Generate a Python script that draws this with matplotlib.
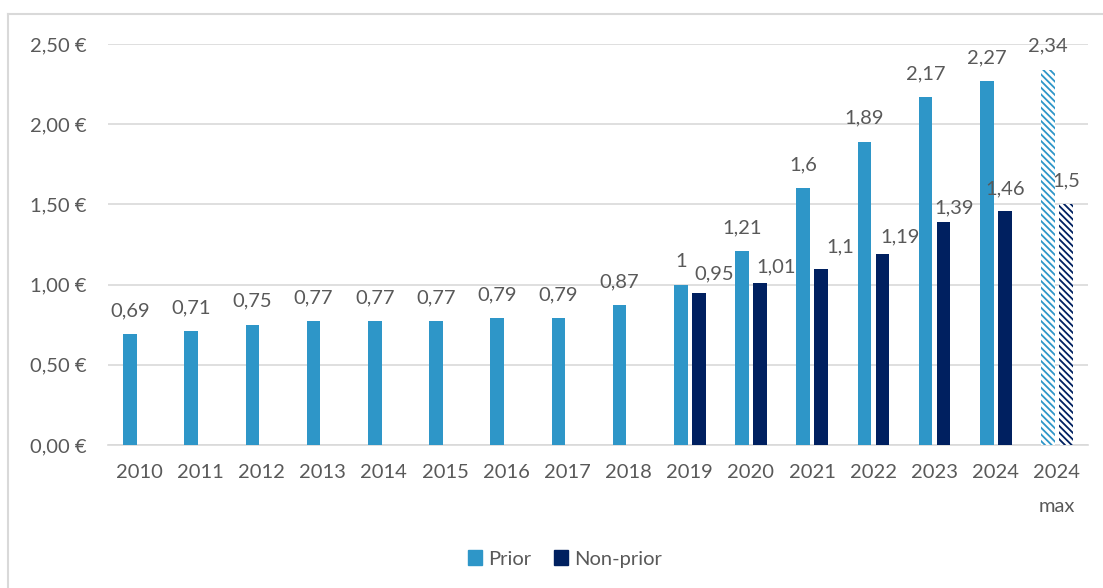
import matplotlib
matplotlib.use("Agg")
import matplotlib.pyplot as plt
from matplotlib.patches import Patch
from matplotlib.lines import Line2D
import numpy as np

plt.rcParams['font.family'] = ['Lato', 'DejaVu Sans']
plt.rcParams['hatch.linewidth'] = 1.3

# data
years = ['2010', '2011', '2012', '2013', '2014', '2015', '2016', '2017',
         '2018', '2019', '2020', '2021', '2022', '2023', '2024', '2024\nmax']
prior = [0.69, 0.71, 0.75, 0.77, 0.77, 0.77, 0.79, 0.79,
         0.87, 1.00, 1.21, 1.60, 1.89, 2.17, 2.27, 2.34]
non_prior = [None, None, None, None, None, None, None, None,
             None, 0.95, 1.01, 1.10, 1.19, 1.39, 1.46, 1.50]
# the non-prior labels were nudged by hand in the original (pixels)
np_label_dx = [0, 0, 0, 0, 0, 0, 0, 0, 0, 15, 16, 19, 18, 11, 0, 0]
np_label_gap = [0, 0, 0, 0, 0, 0, 0, 0, 0, 13, 11, 16, 12, 9, 16, 18]
yticks = [0, 0.5, 1.0, 1.5, 2.0, 2.5]

c_prior = '#2E96C8'
c_nonprior = '#002060'
txt = '#595959'
grid = '#D9D9D9'
fs = 14.5

fig = plt.figure(figsize=(11.03, 5.88), dpi=100)
ax = fig.add_axes([108.4 / 1103, 1 - 445 / 588, (1087.6 - 108.4) / 1103, (445 - 44) / 588])

x = np.arange(len(years))
off, w = 0.147, 0.22
last = len(years) - 1

def fmt(v):
    return f'{v:g}'.replace('.', ',')

for i, v in enumerate(prior):
    if i == last:
        ax.bar(x[i] - off, v, w, facecolor='white', edgecolor=c_prior,
               hatch='\\\\\\\\\\', linewidth=0, zorder=3)
    else:
        ax.bar(x[i] - off, v, w, color=c_prior, zorder=3)
    ax.annotate(fmt(v), (x[i] - off, v), xytext=(0, 18), textcoords='offset pixels',
                ha='center', va='baseline', fontsize=fs, color=txt, annotation_clip=False)

for i, v in enumerate(non_prior):
    if v is None:
        continue
    if i == last:
        ax.bar(x[i] + off, v, w, facecolor='white', edgecolor=c_nonprior,
               hatch='\\\\\\\\\\', linewidth=0, zorder=3)
    else:
        ax.bar(x[i] + off, v, w, color=c_nonprior, zorder=3)
    ax.annotate(fmt(v), (x[i] + off, v), xytext=(np_label_dx[i], np_label_gap[i]),
                textcoords='offset pixels', ha='center', va='baseline',
                fontsize=fs, color=txt, annotation_clip=False)

ax.set_xlim(-0.5, len(years) - 0.5)
ax.set_ylim(0, 2.5)
ax.set_yticks(yticks)
ax.set_yticklabels([f'{t:.2f} €'.replace('.', ',') for t in yticks])
ax.set_xticks(x)
ax.set_xticklabels(years, linespacing=2.2, va='top')
ax.tick_params(axis='both', length=0, labelsize=fs, labelcolor=txt)
ax.tick_params(axis='y', pad=16)
ax.tick_params(axis='x', pad=13.5)
ax.yaxis.grid(True, color=grid, linewidth=1.2)
ax.set_axisbelow(True)
for s in ['top', 'right', 'left']:
    ax.spines[s].set_visible(False)
ax.spines['bottom'].set_color(grid)
ax.spines['bottom'].set_linewidth(1.2)

handles = [Patch(color=c_prior, label='Prior'), Patch(color=c_nonprior, label='Non-prior')]
fig.legend(handles=handles, loc='center', bbox_to_anchor=(565 / 1103, 1 - 559 / 588),
           ncol=2, frameon=False, fontsize=fs, labelcolor=txt,
           handlelength=0.7, handleheight=0.7, handletextpad=0.3, columnspacing=1.1)

# chart frame (only the top and left edges are in the crop)
fig.add_artist(Line2D([8 / 1103, 8 / 1103], [0, 1 - 14 / 588], color=grid, lw=1.5))
fig.add_artist(Line2D([8 / 1103, 1], [1 - 14 / 588, 1 - 14 / 588], color=grid, lw=1.5))

fig.savefig('out.png', dpi=100)
